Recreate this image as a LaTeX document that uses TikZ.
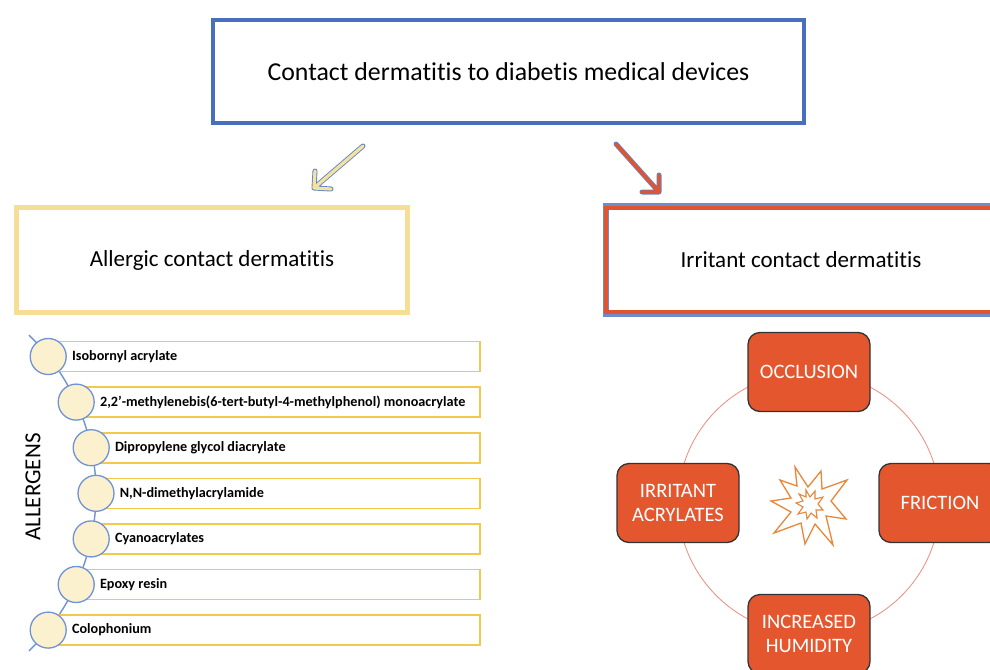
\documentclass[tikz,border=0pt]{standalone}
\usepackage{fontspec}
\setmainfont{Carlito}[Ligatures=NoCommon]
\usetikzlibrary{calc}

\definecolor{topblue}{HTML}{4A6EBE}
\definecolor{allyellow}{HTML}{F7DE96}
\definecolor{itemgold}{HTML}{F2C94C}
\definecolor{bubblefill}{HTML}{FBF1CF}
\definecolor{bubbleline}{HTML}{7092D6}
\definecolor{irrred}{HTML}{E05530}
\definecolor{boxorange}{HTML}{E4572E}
\definecolor{ringred}{HTML}{F08A80}
\definecolor{staror}{HTML}{E8873A}
\definecolor{arrowyel}{HTML}{F3E3A0}

\tikzset{
  headbox/.style={draw=topblue, line width=4pt, minimum width=591pt, minimum height=103pt,
    font=\fontsize{25.8}{30}\selectfont},
  allbox/.style={draw=allyellow, line width=5pt, minimum width=391pt, minimum height=105pt,
    font=\fontsize{23}{27}\selectfont},
  irrbox/.style={draw=irrred, line width=4pt, minimum width=400pt, minimum height=104pt,
    font=\fontsize{23}{27}\selectfont},
  itemrow/.style={draw=itemgold, line width=1.6pt, minimum height=30pt, anchor=west, inner sep=0pt},
  bubble/.style={circle, draw=bubbleline, line width=1.3pt, fill=bubblefill, minimum size=36pt, inner sep=0pt},
  itemtext/.style={anchor=west, font=\bfseries\fontsize{14.2}{16}\selectfont, inner sep=0pt},
  factor/.style={draw=black!80, line width=1.3pt, fill=boxorange, rounded corners=12pt,
    minimum width=122pt, minimum height=79pt, text=white, align=center,
    font=\fontsize{20.5}{24}\selectfont},
  arrowline/.style={line cap=round, line join=round},
}

\begin{document}
\begin{tikzpicture}[x=1pt, y=-1pt]
\clip (0,0) rectangle (990,669);
\fill[white] (0,0) rectangle (990,669);

% headline and the two branches
\node[headbox] (head) at (508.5,71.5) {Contact dermatitis to diabetis medical devices};
\node[allbox] (allergic) at (212,260) {Allergic contact dermatitis};
\draw[topblue!80, line width=6pt] (606,206) rectangle (1010,314);
\node[irrbox] (irritant) at (806,260) {\hspace*{-10pt}Irritant contact dermatitis};

% branch arrows
\coordinate (la-s) at (363,146);
\coordinate (la-t) at (314,188);
\coordinate (la-a) at (315,171);
\coordinate (la-b) at (331,189);
\draw[arrowline, topblue!85, line width=5pt] (la-s) -- (la-t) (la-a) -- (la-t) -- (la-b);
\draw[arrowline, arrowyel, line width=3.2pt] (la-s) -- (la-t) (la-a) -- (la-t) -- (la-b);

\coordinate (ra-s) at (616,144);
\coordinate (ra-t) at (659,192);
\coordinate (ra-a) at (659,175);
\coordinate (ra-b) at (642,192);
\draw[arrowline, topblue!85, line width=5pt] (ra-s) -- (ra-t) (ra-a) -- (ra-t) -- (ra-b);
\draw[arrowline, irrred, line width=3.4pt] (ra-s) -- (ra-t) (ra-a) -- (ra-t) -- (ra-b);

% allergen list on an arc
\coordinate (arcc) at (-123.5,493);
\draw[bubbleline, line width=1.4pt] ($(arcc)+(-46:219.5)$) arc[start angle=-46, end angle=46, radius=219.5];

\foreach \i/\cx/\cy/\txt in {
  1/48.2/356.5/Isobornyl acrylate,
  2/76.2/402.1/{2,2’-methylenebis(6-tert-butyl-4-methylphenol) monoacrylate},
  3/91.2/447.7/Dipropylene glycol diacrylate,
  4/96.0/493.3/{N,N-dimethylacrylamide},
  5/91.2/538.9/Cyanoacrylates,
  6/76.2/584.5/Epoxy resin,
  7/48.2/630.1/Colophonium}{
  \node[itemrow, minimum width={479pt-\cx pt}] (row\i) at (\cx,\cy) {};
  \node[bubble] (bub\i) at (\cx,\cy) {};
  \node[itemtext] (lab\i) at ($(bub\i.east)+(5,0)$) {\txt};
}

\node[rotate=90, font=\fontsize{23}{26}\selectfont] (allergens) at (33,487) {ALLERGENS};

% irritant factors around a ring
\coordinate (ringc) at (809,503);
\draw[ringred, line width=0.8pt] (ringc) circle[radius=131];
\node[factor] (occl) at (809,372) {OCCLUSION};
\node[factor] (fric) at (940,503) {FRICTION};
\node[factor] (humid) at (809,634) {INCREASED\\HUMIDITY};
\node[factor] (acryl) at (678,503) {IRRITANT\\ACRYLATES};

% burst in the centre
\begin{scope}[shift={(810,505)}]
  \draw[staror, line width=1.3pt, line join=miter]
    (-15,-38) -- (-2,-18) -- (11,-34) -- (12,-16) -- (37,-25) -- (21,-4)
    -- (36,14) -- (16,11) -- (23,40) -- (5,19) -- (-5,39) -- (-9,18)
    -- (-36,28) -- (-19,7) -- (-39,-4) -- (-19,-7) -- (-30,-25) -- (-13,-19) -- cycle;
  \draw[staror, line width=1.1pt, line join=miter]
    (-4,-15) -- (0,-8) -- (5,-14) -- (5,-6) -- (13,-8) -- (8,-1)
    -- (13,5) -- (6,5) -- (7,13) -- (1,8) -- (-3,14) -- (-4,7)
    -- (-12,9) -- (-7,2) -- (-14,-2) -- (-7,-4) -- (-11,-11) -- (-4,-8) -- cycle;
\end{scope}
\end{tikzpicture}
\end{document}
